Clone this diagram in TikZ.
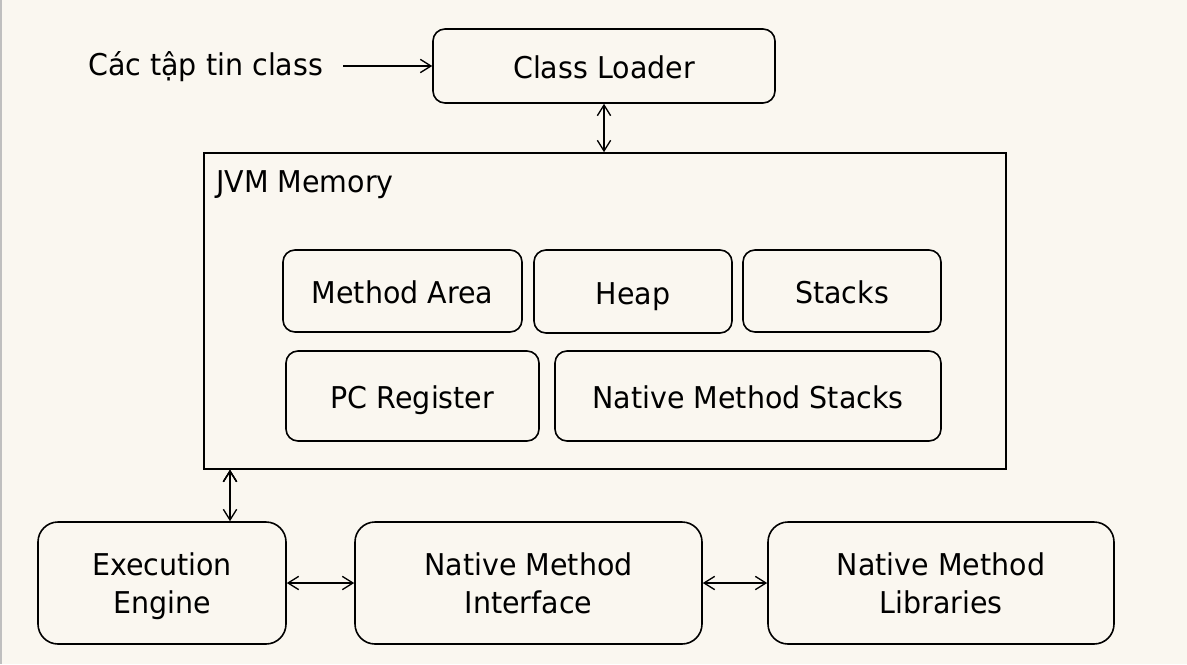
\documentclass[tikz,border=0pt]{standalone}
\usepackage{fontspec}
\setmainfont{DejaVu Sans}[FakeStretch=0.95]
\usepackage{xcolor}
\usetikzlibrary{arrows.meta, positioning}
\definecolor{paper}{RGB}{250,247,240}
\tikzset{
    txt/.style={inner sep=0pt, align=center, font=\fontsize{22.5}{28.5}\selectfont},
    box/.style={txt, draw, line width=1.2pt, rounded corners=9pt, text height=19pt, text depth=0pt},
    bigbox/.style={txt, draw, line width=1.2pt, rounded corners=15pt, minimum height=91.5pt, text depth=0pt}
}
\begin{document}
\begin{tikzpicture}[x=0.75pt, y=-0.75pt, >={Straight Barb[length=8pt,width=10pt]}]
                        \fill[paper] (0,0) rectangle (1187,664);
                        \fill[black!25] (0,0) rectangle (2,664);

                        \node[txt, anchor=base west] (files) at (88,75) {Các tập tin class};
                        \node[box, minimum width=256.5pt, minimum height=55.5pt] (loader) at (604,66) {Class Loader};

                        \node[draw, line width=1.2pt, minimum width=601.5pt, minimum height=237pt] (jvm) at (605,311) {};
                        \node[txt, anchor=base west] (jvmlabel) at (216,192) {JVM Memory};

                        \node[box, minimum width=179.25pt, minimum height=61.5pt] (method) at (402.5,291) {Method Area};
                        \node[box, minimum width=148.5pt, minimum height=62.25pt] (heap) at (633,291.5) {Heap};
                        \node[box, minimum width=148.5pt, minimum height=61.5pt] (stacks) at (842,291) {Stacks};
                        \node[box, minimum width=189.75pt, minimum height=67.5pt] (pcreg) at (412.5,396) {PC Register};
                        \node[box, minimum width=289.5pt, minimum height=67.5pt] (nstacks) at (748,396) {Native Method Stacks};

                        \node[bigbox, minimum width=186pt] (engine) at (162,583) {Execution\\Engine};
                        \node[bigbox, minimum width=260.25pt] (interface) at (528.5,583) {Native Method\\Interface};
                        \node[bigbox, minimum width=259.5pt] (libraries) at (941,583) {Native Method\\Libraries};

                        \draw[->, line width=1pt]
                        ([xshift=15pt]files.east |- loader.west) -- (loader.west);

                        \draw[<->, line width=1pt]
                        (loader.south) edge (loader.south |- jvm.north)
                        ([xshift=51pt]engine.north |- jvm.south) edge ([xshift=51pt]engine.north)
                        (engine) edge (interface)
                        (interface) edge (libraries);
                    \end{tikzpicture}
\end{document}
